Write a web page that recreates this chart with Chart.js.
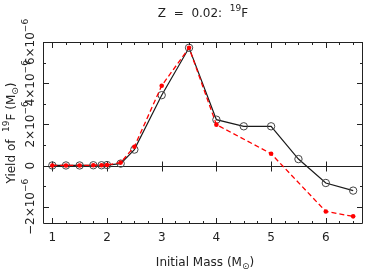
<!DOCTYPE html>
<html>
<head>
<meta charset="utf-8">
<script src="https://cdn.jsdelivr.net/npm/chart.js@4"></script>
<style>
  html, body { margin: 0; padding: 0; background: #fff; }
  #wrap { width: 368px; height: 273px; position: relative; }
</style>
</head>
<body>
<div id="wrap"><canvas id="yieldChart"></canvas></div>
<script>
// Z = 0.02, 19F yields, in units of 1e-6 Msun
const massSolid = [1, 1.25, 1.5, 1.75, 1.9, 2, 2.25, 2.5, 3, 3.5, 4, 4.5, 5, 5.5, 6, 6.5];
const yieldSolid = [0.01, 0.01, 0.01, 0.02, 0.02, 0.03, 0.1, 0.78, 3.42, 5.72, 2.23, 1.91, 1.91, 0.32, -0.84, -1.21];
const massDashed = [1, 1.25, 1.5, 1.75, 1.9, 2, 2.25, 2.5, 3, 3.5, 4, 5, 6, 6.5];
const yieldDashed = [0.01, 0.01, 0.01, 0.02, 0.02, 0.03, 0.15, 0.92, 3.88, 5.72, 1.99, 0.58, -2.22, -2.46];

const xTicks = [1, 2, 3, 4, 5, 6];
const xMinorTicks = [1.25, 1.5, 1.75, 2.25, 2.5, 2.75, 3.25, 3.5, 3.75, 4.25, 4.5, 4.75, 5.25, 5.5, 5.75, 6.25, 6.5];
const yTicks = [-2, 0, 2, 4, 6];
const yMinorTicks = [-1, 1, 3, 5];

const FONT = '"DejaVu Sans", "Liberation Sans", sans-serif';
const INK = '#222';

function toPoints(xs, ys) {
  return xs.map((x, i) => ({ x: x, y: ys[i] }));
}

// draw a row of text pieces (with super/subscripts) centred on (x, y)
function drawRuns(ctx, runs, x, y, rotated) {
  ctx.save();
  ctx.translate(x, y);
  if (rotated) ctx.rotate(-Math.PI / 2);
  ctx.textBaseline = 'middle';
  ctx.textAlign = 'left';
  ctx.fillStyle = INK;
  let total = 0;
  runs.forEach(r => {
    ctx.font = r.size + 'px ' + FONT;
    r.w = ctx.measureText(r.t).width;
    total += r.w;
  });
  let cx = -total / 2;
  runs.forEach(r => {
    ctx.font = r.size + 'px ' + FONT;
    ctx.fillText(r.t, cx, r.dy || 0);
    cx += r.w;
  });
  ctx.restore();
}

function powLabel(v) {
  if (v === 0) return [{ t: '0', size: 12 }];
  const s = v < 0 ? '\u2212' : '';
  return [{ t: s + Math.abs(v) + '\u00d710', size: 12 }, { t: '\u22126', size: 9, dy: -5 }];
}

const framePlugin = {
  id: 'idlFrame',
  beforeDatasetsDraw(chart) {
    const { ctx, chartArea: a } = chart;
    const xs = chart.scales.x, ys = chart.scales.y;
    ctx.save();
    ctx.strokeStyle = INK;
    ctx.lineWidth = 1;
    ctx.beginPath();
    // zero line
    const y0 = Math.round(ys.getPixelForValue(0)) + 0.5;
    ctx.moveTo(a.left, y0); ctx.lineTo(a.right, y0);
    xTicks.forEach(v => {
      const px = Math.round(xs.getPixelForValue(v)) + 0.5;
      ctx.moveTo(px, y0 - 5); ctx.lineTo(px, y0 + 5);
    });
    ctx.stroke();
    ctx.restore();
  },
  afterDraw(chart) {
    const { ctx, chartArea: a } = chart;
    const xs = chart.scales.x, ys = chart.scales.y;
    ctx.save();
    ctx.strokeStyle = INK;
    ctx.lineWidth = 1;
    ctx.beginPath();
    ctx.rect(a.left + 0.5, a.top + 0.5, a.right - a.left - 1, a.bottom - a.top - 1);
    const tickX = (v, len) => {
      const px = Math.round(xs.getPixelForValue(v)) + 0.5;
      ctx.moveTo(px, a.bottom); ctx.lineTo(px, a.bottom - len);
      ctx.moveTo(px, a.top); ctx.lineTo(px, a.top + len);
    };
    const tickY = (v, len) => {
      const py = Math.round(ys.getPixelForValue(v)) + 0.5;
      ctx.moveTo(a.left, py); ctx.lineTo(a.left + len, py);
      ctx.moveTo(a.right, py); ctx.lineTo(a.right - len, py);
    };
    xTicks.forEach(v => tickX(v, 6));
    xMinorTicks.forEach(v => tickX(v, 3));
    yTicks.forEach(v => tickY(v, 6));
    yMinorTicks.forEach(v => tickY(v, 3));
    ctx.stroke();
    ctx.restore();

    // tick labels
    xTicks.forEach(v => {
      drawRuns(ctx, [{ t: String(v), size: 12 }], xs.getPixelForValue(v), a.bottom + 14, false);
    });
    yTicks.forEach(v => {
      drawRuns(ctx, powLabel(v), a.left - 12, ys.getPixelForValue(v), true);
    });

    // titles
    const midX = (a.left + a.right) / 2;
    const midY = (a.top + a.bottom) / 2;
    drawRuns(ctx, [{ t: 'Z  =  0.02:  ', size: 12 }, { t: '19', size: 9, dy: -5 }, { t: 'F', size: 12 }], midX, 14, false);
    drawRuns(ctx, [{ t: 'Initial Mass (M', size: 12 }, { t: '\u2299', size: 9, dy: 4 }, { t: ')', size: 12 }], midX + 2, a.bottom + 39, false);
    drawRuns(ctx, [{ t: 'Yield of  ', size: 12 }, { t: '19', size: 9, dy: -5 }, { t: 'F (M', size: 12 }, { t: '\u2299', size: 9, dy: 4 }, { t: ')', size: 12 }], 12, midY, true);
  }
};

new Chart(document.getElementById('yieldChart').getContext('2d'), {
  type: 'scatter',
  data: {
    datasets: [{
      label: 'solid',
      data: toPoints(massSolid, yieldSolid),
      showLine: true,
      borderColor: '#1a1a1a',
      borderWidth: 1.2,
      pointStyle: 'circle',
      pointRadius: 3.7,
      pointBorderColor: '#444',
      pointBorderWidth: 1,
      pointBackgroundColor: 'rgba(0,0,0,0)',
      order: 2
    }, {
      label: 'dashed',
      data: toPoints(massDashed, yieldDashed),
      showLine: true,
      borderColor: '#ff0000',
      borderWidth: 1.3,
      borderDash: [5, 3],
      pointRadius: 2.3,
      pointBorderWidth: 0,
      pointBackgroundColor: '#ff0000',
      order: 1
    }]
  },
  options: {
    responsive: true,
    maintainAspectRatio: false,
    animation: false,
    layout: { padding: { left: 43, right: 2, top: 42, bottom: 49 } },
    plugins: { legend: { display: false }, tooltip: { enabled: false } },
    scales: {
      x: { type: 'linear', min: 0.83, max: 6.68, display: false },
      y: { type: 'linear', min: -2.83, max: 6, display: false }
    }
  },
  plugins: [framePlugin]
});
</script>
</body>
</html>
